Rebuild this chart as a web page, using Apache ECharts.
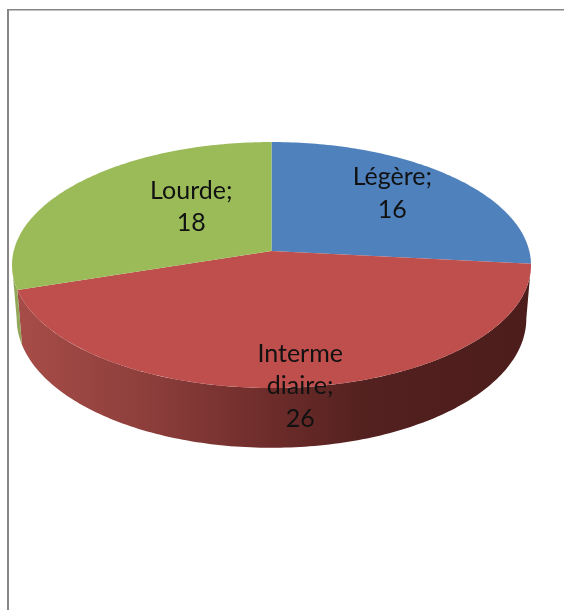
<!DOCTYPE html>
<html>
<head>
<meta charset="utf-8">
<style>html,body{margin:0;padding:0;background:#fff}#c{width:564px;height:610px}</style>
<script src="https://cdn.jsdelivr.net/npm/echarts@6/dist/echarts.min.js"></script>
</head>
<body>
<div id="c"></div>
<script>
// Data
const categories = ['Légère', 'Intermediaire', 'Lourde'];
const values = [16, 26, 18];
const labelLines = [['Légère;', '16'], ['Interme', 'diaire;', '26'], ['Lourde;', '18']];

// Style
const topColors = ['#4F81BD', '#BE4F4C', '#9BBB59'];
const wallStops = [
  ['#8f8f8f', '#a84d49', '#93a85a'],
  ['#6f6f6f', '#8e3f3c', '#7d9648'],
  ['#505050', '#6d2c2a', '#5c6e35'],
  ['#3f3f3f', '#53211f', '#4a5a2b'],
  ['#383838', '#4c1d1b', '#404e25']
];
const wallOffsets = [0, 0.25, 0.5, 0.68, 1];
const labelRadius = [0.68, 0.98, 0.42];
const labelShift = [[-3, -5], [-1, 2], [5, -15]];

// Projection of the tilted disc
const cx = 271.5, cy = 251, a = 121.4, b = 257.8, p = 0.1138, depth = 53, bottomShrink = 0.982;
function project(theta, r, drop, shrink) {
  const u = r * Math.sin(theta), v = -r * Math.cos(theta), w = 1 - p * v;
  return [cx + shrink * b * u / w, cy + a * v / w + drop / w];
}
function angles(i) {
  const total = values.reduce((s, x) => s + x, 0);
  const before = values.slice(0, i).reduce((s, x) => s + x, 0);
  return [before / total * 2 * Math.PI, (before + values[i]) / total * 2 * Math.PI];
}
const STEP = Math.PI / 180;
function arc(t0, t1, drop, shrink) {
  const n = Math.max(2, Math.ceil((t1 - t0) / STEP));
  const pts = [];
  for (let k = 0; k <= n; k++) pts.push(project(t0 + (t1 - t0) * k / n, 1, drop, shrink));
  return pts;
}
// the near half of the rim lies between the two points where the outline turns
const rimStart = Math.PI - Math.acos(p), rimEnd = Math.PI + Math.acos(p);

function renderSlice(params, api) {
  const i = params.dataIndex;
  const [t0, t1] = angles(i);
  const children = [];
  const w0 = Math.max(t0, rimStart), w1 = Math.min(t1, rimEnd);
  if (w1 > w0) {
    const pts = arc(w0, w1, 0, 1).concat(arc(w0, w1, depth, bottomShrink).reverse());
    children.push({
      type: 'polygon', z2: 1,
      shape: { points: pts },
      style: {
        fill: new echarts.graphic.LinearGradient(12, 0, 531, 0,
          wallOffsets.map((o, k) => ({ offset: o, color: wallStops[k][i] })), true)
      }
    });
  }
  children.push({
    type: 'polygon', z2: 2,
    shape: { points: [[cx, cy]].concat(arc(t0, t1, 0, 1)) },
    style: { fill: topColors[i] }
  });
  const mid = project((t0 + t1) / 2, labelRadius[i], 0, 1);
  children.push({
    type: 'text', z2: 10,
    style: {
      text: labelLines[i].join('\n'),
      x: mid[0] + labelShift[i][0], y: mid[1] + labelShift[i][1],
      align: 'center', verticalAlign: 'middle',
      font: '25px Lato, "Open Sans", sans-serif',
      lineHeight: 32.5,
      fill: '#111'
    }
  });
  return { type: 'group', children };
}

const chart = echarts.init(document.getElementById('c'), null, { renderer: 'canvas' });
chart.setOption({
  animation: false,
  backgroundColor: '#fff',
  graphic: [
    { type: 'rect', shape: { x: 7, y: 9, width: 2, height: 601 }, style: { fill: '#868686' } },
    { type: 'rect', shape: { x: 7, y: 9, width: 557, height: 1.4 }, style: { fill: '#868686' } }
  ],
  series: [{
    type: 'custom',
    coordinateSystem: 'none',
    renderItem: renderSlice,
    data: categories.map((name, i) => ({ name, value: values[i] }))
  }]
});
</script>
</body>
</html>
